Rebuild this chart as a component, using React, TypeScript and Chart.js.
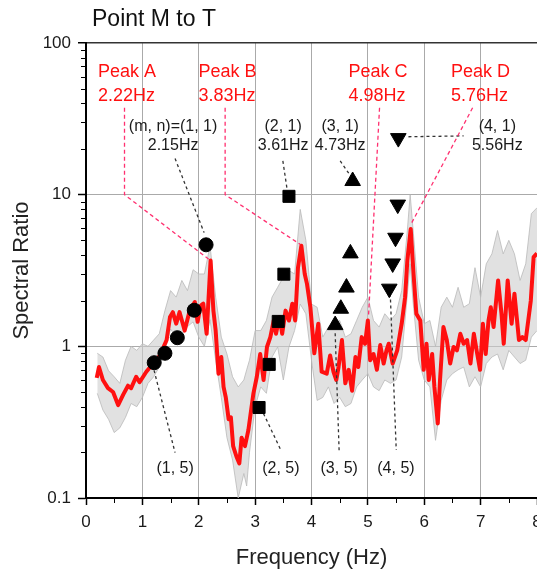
import React, { useEffect, useRef } from 'react';
import { Chart, registerables } from 'chart.js';
Chart.register(...registerables);

// ---- mean spectral ratio (red line) ----
const redFreq = [0.19, 0.23, 0.30, 0.39, 0.48, 0.57, 0.66, 0.745, 0.80, 0.89, 0.95, 1.07, 1.19, 1.31, 1.43, 1.49, 1.54, 1.60, 1.66, 1.75, 1.84, 1.93, 1.98, 2.03, 2.08, 2.14, 2.21, 2.26, 2.30, 2.35, 2.40, 2.44, 2.48, 2.53, 2.57, 2.61, 2.67, 2.72, 2.76, 2.82, 2.88, 2.97, 3.03, 3.09, 3.15, 3.21, 3.27, 3.33, 3.37, 3.43, 3.48, 3.54, 3.60, 3.66, 3.71, 3.76, 3.82, 3.88, 3.92, 3.98, 4.05, 4.12, 4.18, 4.27, 4.33, 4.39, 4.44, 4.48, 4.54, 4.60, 4.66, 4.72, 4.78, 4.83, 4.89, 4.95, 5.00, 5.04, 5.10, 5.16, 5.22, 5.28, 5.33, 5.37, 5.44, 5.52, 5.60, 5.66, 5.70, 5.76, 5.81, 5.86, 5.93, 5.99, 6.04, 6.08, 6.14, 6.18, 6.24, 6.28, 6.34, 6.40, 6.46, 6.52, 6.58, 6.64, 6.70, 6.76, 6.82, 6.88, 6.94, 6.99, 7.04, 7.09, 7.14, 7.18, 7.23, 7.31, 7.37, 7.41, 7.48, 7.55, 7.60, 7.68, 7.74, 7.80, 7.89, 7.94, 8.00];
const redValue = [0.62, 0.73, 0.60, 0.53, 0.50, 0.41, 0.48, 0.55, 0.53, 0.63, 0.58, 0.68, 0.77, 0.87, 1.10, 1.56, 1.68, 1.41, 1.68, 1.27, 1.72, 1.96, 1.45, 1.85, 1.91, 1.21, 3.68, 1.72, 1.27, 0.66, 0.85, 0.54, 0.46, 0.33, 0.34, 0.22, 0.187, 0.169, 0.25, 0.22, 0.28, 0.49, 0.63, 0.89, 0.60, 0.99, 1.15, 1.48, 1.21, 1.56, 1.21, 1.72, 1.48, 1.91, 1.48, 3.30, 4.60, 3.00, 2.58, 1.81, 0.90, 1.41, 0.68, 0.66, 0.87, 0.68, 0.60, 0.73, 1.10, 0.57, 0.70, 0.51, 0.85, 0.73, 1.15, 1.04, 1.48, 0.81, 0.89, 0.70, 1.02, 0.77, 0.94, 1.04, 0.77, 0.94, 1.41, 2.11, 3.68, 5.94, 3.00, 1.64, 1.48, 0.70, 1.04, 0.60, 0.89, 0.54, 0.31, 0.60, 1.34, 1.10, 0.77, 0.99, 0.94, 1.21, 1.04, 1.10, 0.77, 1.21, 0.89, 0.70, 1.41, 0.89, 1.48, 1.81, 1.34, 2.72, 1.64, 1.04, 2.72, 1.41, 2.22, 1.10, 1.15, 1.10, 2.00, 3.87, 4.10];

// ---- individual records envelope (grey band) ----
const bandFreq = [0.2, 0.3, 0.4, 0.5, 0.6, 0.7, 0.8, 0.9, 1.0, 1.1, 1.2, 1.3, 1.4, 1.5, 1.6, 1.7, 1.8, 1.9, 2.0, 2.1, 2.2, 2.3, 2.4, 2.5, 2.6, 2.7, 2.8, 2.85, 2.9, 3.0, 3.1, 3.2, 3.3, 3.4, 3.5, 3.6, 3.7, 3.8, 3.9, 4.0, 4.1, 4.2, 4.3, 4.4, 4.5, 4.6, 4.7, 4.8, 4.9, 5.0, 5.1, 5.2, 5.3, 5.4, 5.5, 5.6, 5.7, 5.75, 5.8, 5.9, 6.0, 6.1, 6.2, 6.3, 6.4, 6.5, 6.6, 6.7, 6.8, 6.9, 7.0, 7.1, 7.2, 7.3, 7.4, 7.5, 7.6, 7.7, 7.8, 7.9, 8.0];
const bandUpper = [0.90, 0.85, 0.69, 0.63, 0.57, 0.81, 1.00, 0.94, 1.04, 1.00, 1.10, 1.21, 1.72, 2.33, 2.11, 2.72, 2.33, 3.20, 3.00, 3.00, 4.60, 2.11, 1.15, 0.89, 0.63, 0.54, 0.60, 0.70, 0.81, 1.27, 1.27, 1.48, 2.11, 2.45, 2.86, 3.16, 3.00, 8.00, 5.00, 1.90, 1.81, 1.15, 1.34, 1.41, 1.48, 1.15, 1.21, 1.48, 1.81, 2.11, 1.48, 1.34, 1.64, 1.48, 1.64, 2.33, 5.80, 10.0, 6.00, 2.11, 1.41, 1.48, 1.00, 1.81, 2.11, 1.81, 2.45, 1.81, 1.91, 3.30, 2.11, 3.50, 4.07, 5.80, 4.07, 5.00, 4.07, 2.72, 3.50, 7.50, 8.20];
const bandLower = [0.49, 0.38, 0.33, 0.27, 0.29, 0.34, 0.42, 0.40, 0.46, 0.57, 0.63, 0.73, 0.94, 1.30, 1.15, 1.20, 1.35, 1.45, 1.15, 1.00, 1.50, 0.81, 0.46, 0.25, 0.178, 0.10, 0.145, 0.12, 0.20, 0.40, 0.54, 0.49, 0.85, 0.99, 0.60, 0.99, 1.27, 1.90, 1.64, 0.81, 0.44, 0.46, 0.54, 0.42, 0.46, 0.40, 0.42, 0.54, 0.60, 0.66, 0.54, 0.51, 0.60, 0.57, 0.60, 0.85, 2.20, 3.50, 2.00, 0.81, 0.60, 0.54, 0.24, 0.44, 0.60, 0.66, 0.70, 0.73, 0.54, 0.63, 0.54, 0.77, 0.85, 0.89, 0.70, 0.94, 0.85, 0.77, 0.81, 1.15, 1.27];

// ---- theoretical modes (m, n) ----
const mode1Freq = [1.21, 1.40, 1.62, 1.92, 2.13];
const mode1Value = [0.78, 0.90, 1.14, 1.73, 4.67];
const mode2Freq = [3.07, 3.25, 3.41, 3.51, 3.60];
const mode2Value = [0.395, 0.76, 1.46, 2.99, 9.75];
const mode3Freq = [4.42, 4.52, 4.62, 4.69, 4.73];
const mode3Value = [1.38, 1.77, 2.44, 4.1, 12.3];
const mode4Freq = [5.38, 5.44, 5.49, 5.53, 5.54];
const mode4Value = [2.40, 3.52, 5.2, 8.6, 23.6];

// ---- axis ticks ----
const xTicks = [0, 1, 2, 3, 4, 5, 6, 7, 8];
const yTicks = [0.1, 1, 10, 100];

// ---- peak annotations ----
const peakNames = ['Peak A', 'Peak B', 'Peak C', 'Peak D'];
const peakHz = ['2.22Hz', '3.83Hz', '4.98Hz', '5.76Hz'];
const peakLabelFreq = [0.213, 1.994, 4.656, 6.474];
const peakLeaderA = [{ x: 0.683, y: 37.4 }, { x: 0.683, y: 10 }, { x: 2.2, y: 3.7 }];
const peakLeaderB = [{ x: 2.468, y: 37.4 }, { x: 2.468, y: 10 }, { x: 3.8, y: 4.7 }];
const peakLeaderC = [{ x: 5.207, y: 37.4 }, { x: 5.01, y: 1.55 }];
const peakLeaderD = [{ x: 6.858, y: 37.4 }, { x: 5.77, y: 6.44 }];

// ---- mode annotations ----
const modeTopText = ['(m, n)=(1, 1)', '(2, 1)', '(3, 1)', '(4, 1)'];
const modeTopHz = ['2.15Hz', '3.61Hz', '4.73Hz', '5.56Hz'];
const modeTopFreq = [1.545, 3.497, 4.509, 7.296];
const modeBottomText = ['(1, 5)', '(2, 5)', '(3, 5)', '(4, 5)'];
const modeBottomFreq = [1.58, 3.456, 4.491, 5.498];
const modeLeader11 = [{ x: 1.58, y: 17.3 }, { x: 2.095, y: 5.62 }];
const modeLeader21 = [{ x: 3.492, y: 16.7 }, { x: 3.563, y: 11.1 }];
const modeLeader31 = [{ x: 4.509, y: 16.7 }, { x: 4.717, y: 12.9 }];
const modeLeader41 = [{ x: 5.72, y: 24.1 }, { x: 6.698, y: 24.4 }];
const modeLeader15 = [{ x: 1.207, y: 0.695 }, { x: 1.58, y: 0.199 }];
const modeLeader25 = [{ x: 3.148, y: 0.361 }, { x: 3.456, y: 0.207 }];
const modeLeader35 = [{ x: 4.42, y: 1.22 }, { x: 4.491, y: 0.2 }];
const modeLeader45 = [{ x: 5.397, y: 2.23 }, { x: 5.503, y: 0.207 }];

const FONT = "'Liberation Sans', Arial, Helvetica, sans-serif";
const RED = '#ff1010';
const PINK = '#ff3070';

const toXY = (xs: number[], ys: number[]) => xs.map((x, i) => ({ x, y: ys[i] }));

export default function App() {
  const ref = useRef<HTMLCanvasElement>(null);
  useEffect(() => {
    document.body.style.margin = '0';
    document.body.style.overflow = 'hidden';
    const canvas = ref.current!;

    const leader = (data: any[], color: string, dash: number[]) => ({
      data, borderColor: color, borderWidth: 1.3, borderDash: dash, pointRadius: 0,
      fill: false, tension: 0, order: 1,
    });
    const marker = (xs: number[], ys: number[], style: string, r: number, rot = 0) => ({
      data: toXY(xs, ys), showLine: false, pointStyle: style, pointRadius: r, pointRotation: rot,
      pointBackgroundColor: '#000', pointBorderColor: '#000', pointBorderWidth: 1, fill: false, order: 0,
    });

    const annot = {
      id: 'annot',
      afterDatasetsDraw(chart: any) {
        const { ctx, chartArea } = chart;
        const xs = chart.scales.x;
        const ys = chart.scales.y;
        ctx.save();
        // minor ticks
        ctx.strokeStyle = '#000';
        ctx.lineWidth = 1;
        for (const dec of [0.1, 1, 10]) {
          for (let k = 2; k <= 9; k++) {
            const py = Math.round(ys.getPixelForValue(k * dec)) + 0.5;
            ctx.beginPath();
            ctx.moveTo(chartArea.left - 5, py);
            ctx.lineTo(chartArea.left, py);
            ctx.stroke();
          }
        }
        for (let i = 0; i < xTicks.length - 1; i++) {
          const px = Math.round(xs.getPixelForValue(xTicks[i] + 0.5)) + 0.5;
          ctx.beginPath();
          ctx.moveTo(px, chartArea.bottom);
          ctx.lineTo(px, chartArea.bottom + 5);
          ctx.stroke();
        }
        // title
        ctx.fillStyle = '#111';
        ctx.font = `23px ${FONT}`;
        ctx.textAlign = 'left';
        ctx.textBaseline = 'middle';
        ctx.fillText('Point M to T', chartArea.left + 6, 20);
        // peak labels
        ctx.fillStyle = RED;
        ctx.font = `18px ${FONT}`;
        peakNames.forEach((t, i) => {
          const px = xs.getPixelForValue(peakLabelFreq[i]);
          ctx.fillText(t, px, ys.getPixelForValue(64));
          ctx.fillText(peakHz[i], px, ys.getPixelForValue(45));
        });
        // mode labels
        ctx.fillStyle = '#1a1a1a';
        ctx.font = `16px ${FONT}`;
        ctx.textAlign = 'center';
        modeTopText.forEach((t, i) => {
          const px = xs.getPixelForValue(modeTopFreq[i]);
          ctx.fillText(t, px, ys.getPixelForValue(28));
          ctx.fillText(modeTopHz[i], px, ys.getPixelForValue(21));
        });
        modeBottomText.forEach((t, i) => {
          ctx.fillText(t, xs.getPixelForValue(modeBottomFreq[i]), ys.getPixelForValue(0.157));
        });
        ctx.restore();
      },
    };

    const chart = new Chart(canvas, {
      type: 'line',
      data: {
        datasets: [
          { data: toXY(bandFreq, bandLower), borderColor: 'rgba(185,185,185,0.8)', borderWidth: 1, pointRadius: 0, fill: false, tension: 0, order: 3 },
          { data: toXY(bandFreq, bandUpper), borderColor: 'rgba(185,185,185,0.8)', borderWidth: 1, pointRadius: 0, fill: '-1', backgroundColor: 'rgba(205,205,205,0.6)', tension: 0, order: 3 },
          { data: toXY(redFreq, redValue), borderColor: RED, borderWidth: 4, pointRadius: 0, fill: false, tension: 0, order: 2, borderJoinStyle: 'round' },
          leader(peakLeaderA, PINK, [4, 3]),
          leader(peakLeaderB, PINK, [4, 3]),
          leader(peakLeaderC, PINK, [4, 3]),
          leader(peakLeaderD, PINK, [4, 3]),
          leader(modeLeader11, '#333', [3, 3]),
          leader(modeLeader21, '#333', [3, 3]),
          leader(modeLeader31, '#333', [3, 3]),
          leader(modeLeader41, '#333', [3, 3]),
          leader(modeLeader15, '#333', [3, 3]),
          leader(modeLeader25, '#333', [3, 3]),
          leader(modeLeader35, '#333', [3, 3]),
          leader(modeLeader45, '#333', [3, 3]),
          marker(mode1Freq, mode1Value, 'circle', 7),
          marker(mode2Freq, mode2Value, 'rect', 8.5),
          marker(mode3Freq, mode3Value, 'triangle', 9),
          marker(mode4Freq, mode4Value, 'triangle', 9, 180),
        ] as any,
      },
      options: {
        responsive: false,
        animation: false,
        devicePixelRatio: 1,
        layout: { padding: { top: 43, right: 23, left: 0, bottom: 0 } },
        plugins: { legend: { display: false }, tooltip: { enabled: false } },
        scales: {
          x: {
            type: 'linear', min: 0, max: 8,
            afterFit: (s: any) => { s.height = 71; },
            afterBuildTicks: (s: any) => { s.ticks = xTicks.map((v) => ({ value: v })); },
            ticks: { font: { family: FONT, size: 17 }, color: '#1a1a1a', padding: 7, autoSkip: false, maxRotation: 0 },
            grid: { color: '#aaaaaa', lineWidth: 1, drawTicks: true, tickLength: 7, tickColor: '#000', tickWidth: 1.5 },
            border: { display: true, color: '#000', width: 2 },
            title: { display: true, text: 'Frequency (Hz)', font: { family: FONT, size: 22, lineHeight: 1 }, color: '#222', padding: { top: 0, bottom: 0 } },
          },
          y: {
            type: 'logarithmic', min: 0.1, max: 100,
            afterFit: (s: any) => { s.width = 86; },
            afterBuildTicks: (s: any) => { s.ticks = yTicks.map((v) => ({ value: v })); },
            ticks: { font: { family: FONT, size: 17 }, color: '#1a1a1a', padding: 7, autoSkip: false, callback: (v: any) => String(v) },
            grid: {
              color: (c: any) => (c.tick && c.tick.value === 100 ? '#333' : '#aaaaaa'),
              lineWidth: (c: any) => (c.tick && c.tick.value === 100 ? 1.5 : 1),
              drawTicks: true, tickLength: 8, tickColor: '#000', tickWidth: 1.5,
            },
            border: { display: true, color: '#000', width: 2 },
            title: { display: true, text: 'Spectral Ratio', font: { family: FONT, size: 22, lineHeight: 1 }, color: '#222', padding: { top: 11, bottom: 0 } },
          },
        },
      } as any,
      plugins: [annot],
    });
    return () => chart.destroy();
  }, []);

  return (
    <div style={{ position: 'fixed', left: 0, top: 0, width: 560, height: 569 }}>
      <canvas ref={ref} width={560} height={569} style={{ width: 560, height: 569 }} />
    </div>
  );
}
